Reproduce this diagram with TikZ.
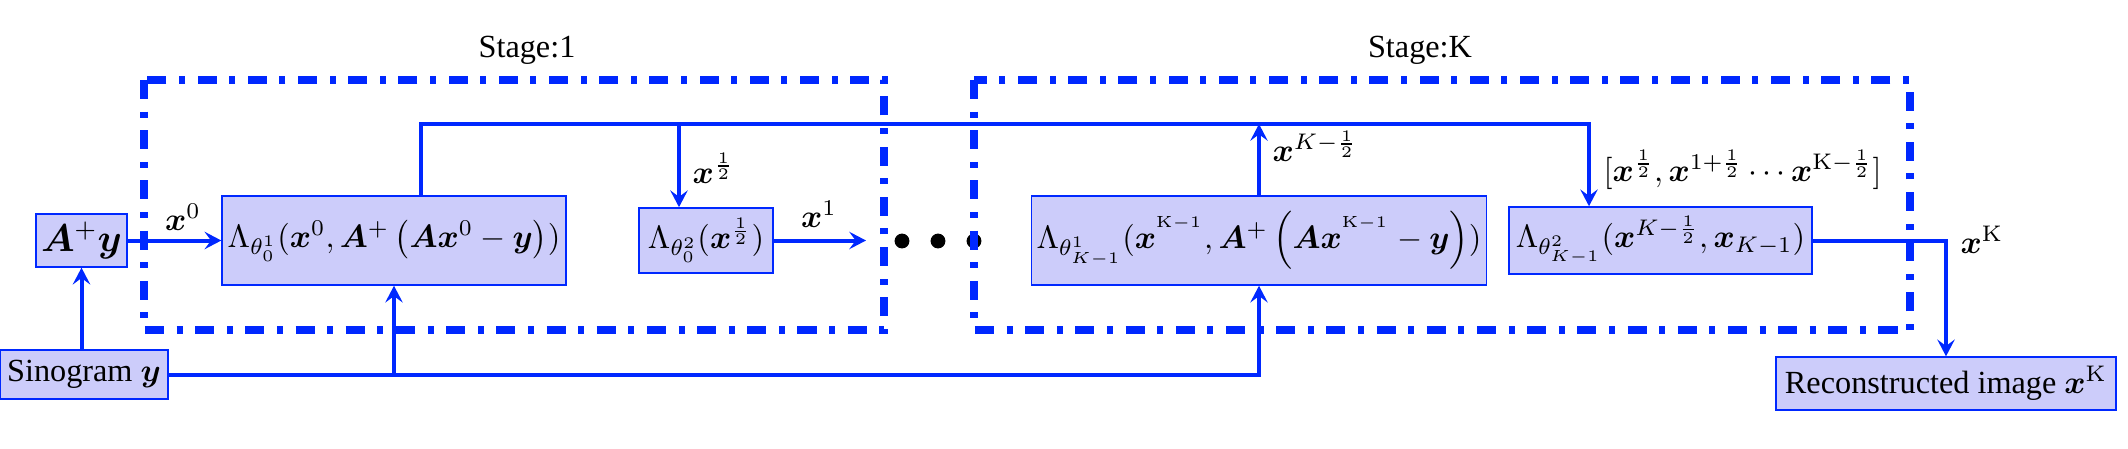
\documentclass[tikz,border=0pt]{standalone}
\usepackage{amsmath}
\usepackage[no-math]{fontspec}
\setmainfont{Liberation Serif}
\usepackage{bm}
\usetikzlibrary{arrows.meta,calc}
\definecolor{lb}{RGB}{0,40,255}
\definecolor{boxfill}{RGB}{204,204,250}
\begin{document}
\begin{tikzpicture}[x=0.31pt,y=-0.31pt,
  blk/.style={draw=lb, fill=boxfill, line width=0.45pt, inner sep=1.5pt},
  conn/.style={draw=lb, line width=1.24pt},
  arr/.style={conn, -{Stealth[length=5.2pt,width=5.4pt,inset=2pt]}},
  stagebox/.style={draw=lb, line width=2.2pt, dash pattern=on 5.9pt off 3.9pt on 1.86pt off 3.9pt},
  lbl/.style={inner sep=0pt},
  dotn/.style={circle, fill=black, inner sep=0pt, minimum size=4.6pt}]
\useasboundingbox (0,0) rectangle (2128,448);

% blocks
\node[blk, minimum width=27.6pt, minimum height=16.4pt] (apy) at (81.5,240.5) {\large$\bm{A}^{+}\bm{y}$};
\node[blk, minimum width=106.6pt, minimum height=27.6pt] (l1) at (394,240.5)
  {$\Lambda_{\theta_0^1}(\bm{x}^0,\bm{A}^{+}\left(\bm{A}\bm{x}^0-\bm{y}\right))$};
\node[blk, minimum width=41.5pt, minimum height=20.2pt] (l2) at (706,240.5)
  {$\Lambda_{\theta_0^2}(\bm{x}^{\frac{1}{2}})$};
\node[blk, minimum width=140.7pt, minimum height=27.6pt] (k1) at (1259,240.5)
  {$\Lambda_{\theta_{K-1}^1}(\bm{x}^{^{\mathrm{K}-1}},\bm{A}^{+}\left(\bm{A}\bm{x}^{^{\mathrm{K}-1}}-\bm{y}\right))$};
\node[blk, minimum width=93.9pt, minimum height=20.8pt] (k2) at (1660.5,240.5)
  {$\Lambda_{\theta_{K-1}^2}(\bm{x}^{K-\frac{1}{2}},\bm{x}_{K-1})$};
\node[blk, minimum width=52.1pt, minimum height=15.2pt] (sino) at (84,374.5) {Sinogram $\bm{y}$};
\node[blk, minimum width=105.4pt, minimum height=16.4pt] (rec) at (1946,383.5) {Reconstructed image $\bm{x}^{\mathrm{K}}$};

% dots
\node[dotn] (d1) at (902,241) {};
\node[dotn] (d2) at (938,241) {};
\node[dotn] (d3) at (974,241) {};

% helper coordinates
\coordinate (top) at (0,124);
\coordinate (t1) at ($(l1.north)+(27,0)$);
\coordinate (l2in) at ($(l2.north)+(-27,0)$);
\coordinate (k2in) at ($(k2.north)+(-71.5,0)$);
\coordinate (x1end) at (866,240.5);

% connectors
\draw[arr] (apy.east) -- (l1.west);
\draw[arr] (sino.north -| apy.south) -- (apy.south);
\draw[arr] (sino.east) -| (k1.south);
\draw[arr] (sino.east -| l1.south) -- (l1.south);
\draw[arr] (t1) -- (t1 |- top) -| (k2in);
\draw[arr] (l2in |- top) -- (l2in);
\draw[arr] (k1.north) -- (k1.north |- top);
\draw[arr] (l2.east) -- (x1end);
\draw[arr] (k2.east) -| (rec.north);

% labels
\node[lbl] (lx0) at (183,217) {$\bm{x}^0$};
\node[lbl, anchor=west] (lxh) at (692,168) {$\bm{x}^{\frac{1}{2}}$};
\node[lbl] (lx1) at (819,214) {$\bm{x}^1$};
\node[lbl, anchor=west] (lxkh) at (1272,146) {$\bm{x}^{K-\frac{1}{2}}$};
\node[lbl, anchor=west] (llist) at (1603,170) {$[\bm{x}^{\frac{1}{2}},\bm{x}^{1+\frac{1}{2}}\cdots\bm{x}^{\mathrm{K}-\frac{1}{2}}]$};
\node[lbl, anchor=west] (lxK) at (1960,240) {$\bm{x}^{\mathrm{K}}$};

% stages
\draw[stagebox] (144,80) rectangle (884,330);
\draw[stagebox] (974,80) rectangle (1910,330);
\node (s1) at (527,50) {Stage:1};
\node (sK) at (1420,50) {Stage:K};
\end{tikzpicture}
\end{document}
